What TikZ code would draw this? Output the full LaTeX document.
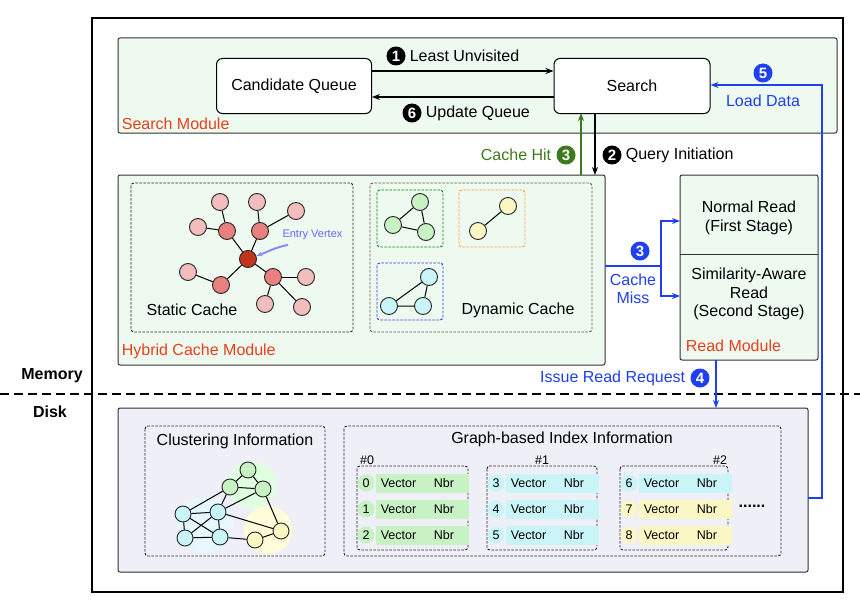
\documentclass[tikz,border=0pt]{standalone}
\usepackage{fontspec}
\setmainfont{Liberation Sans}
\usetikzlibrary{arrows.meta}
\definecolor{modfill}{HTML}{EEF9F0}
\definecolor{diskfill}{HTML}{EFEFF8}
\definecolor{labred}{HTML}{E8401C}
\definecolor{hitgreen}{HTML}{3D7A1E}
\definecolor{missblue}{HTML}{1F3FF0}
\definecolor{vgreen}{HTML}{C8F2C4}
\definecolor{vblue}{HTML}{C9F5F8}
\definecolor{vyellow}{HTML}{FBF7C4}
\definecolor{vpink}{HTML}{F2BDBD}
\definecolor{vmid}{HTML}{E88080}
\definecolor{vdark}{HTML}{C1341E}
\tikzset{
  big/.style={font=\fontsize{16}{18.5}\selectfont},
  small/.style={font=\fontsize{12.5}{14}\selectfont},
  module/.style={draw=black!80,line width=1pt,rounded corners=2pt,fill=modfill},
  plain/.style={draw=black,line width=1pt,rounded corners=6pt,fill=white},
  dbox/.style={draw=black!85,line width=0.9pt,dash pattern=on 2.5pt off 1.5pt,rounded corners=3pt},
  vtx/.style={circle,draw=black!85,line width=0.9pt,inner sep=0pt,minimum size=17pt},
  num/.style={circle,fill=#1,text=white,inner sep=0pt,minimum size=19pt,
    font=\fontsize{15}{15}\selectfont\bfseries},
  arr/.style={-{Stealth[length=8pt,width=6pt]},line width=1.6pt},
}
\newcommand{\rowitem}[4]{% x, y, colour, index
  \node[circle,fill=#3,inner sep=0pt,minimum size=17pt,small] (i#4) at (#1+9,#2) {#4};
  \node[fill=#3,minimum width=93pt,minimum height=19pt,inner sep=0pt,anchor=west] (r#4) at (#1+18,#2) {};
  \node[small,anchor=west] at (#1+20,#2) {Vector};
  \node[small,anchor=west] at (#1+73,#2) {Nbr};
}
\begin{document}
\begin{tikzpicture}[x=1pt,y=-1pt,line width=1pt]
	\useasboundingbox (0,0) rectangle (860,610);
	\draw[line width=1.8pt] (92,18) rectangle (843,592);
	
	% search module
	\draw[module] (118,38) rectangle (837,133);
	\node[plain,big,minimum width=155pt,minimum height=55pt] (cq) at (294,86) {Candidate Queue};
	\node[plain,big,minimum width=156pt,minimum height=55pt] (se) at (632,86) {Search};
	\node[big,text=labred,anchor=west] (sm) at (118,124) {Search Module};
	\draw[arr] (cq.east|-0,71) -- (se.west|-0,71);
	\draw[arr] (se.west|-0,97) -- (cq.east|-0,97);
	\node[num=black] (n1) at (396,56) {1};
	\node[big,anchor=west] at (406,56) {Least Unvisited};
	\node[num=black] (n6) at (412,113) {6};
	\node[big,anchor=west] at (422,113) {Update Queue};
	
	% hybrid cache module
	\draw[module] (118,175) rectangle (605,365);
	\node[big,text=labred,anchor=west] (hm) at (118,351) {Hybrid Cache Module};
	\draw[dbox] (131,183) rectangle (353,332);
	\draw[dbox,black!65] (370,183) rectangle (592,332);
	\draw[dbox,green!55!black] (377,190) rectangle (443,247);
	\draw[dbox,orange!80] (459,190) rectangle (525,247);
	\draw[dbox,blue!80] (377,263) rectangle (443,320);
	\node[big] at (192,310) {Static Cache};
	\node[big] at (518,310) {Dynamic Cache};
	
	% static cache graph
	\foreach \n/\p/\q in {m1/227/231,m2/260/231,m3/221/285,m4/273/277}
	  \node[vtx,fill=vmid] (\n) at (\p,\q) {};
	\foreach \n/\p/\q in {l1/220/202,l2/257/202,l3/198/227,l4/296/211,l5/188/272,l6/306/277,l7/265/304,l8/302/307}
	  \node[vtx,fill=vpink] (\n) at (\p,\q) {};
	\node[vtx,fill=vdark] (ev) at (248,259) {};
	\foreach \a/\b in {ev/m1,ev/m2,ev/m3,ev/m4,m1/l1,m1/l3,m2/l2,m2/l4,m3/l5,m4/l6,m4/l7,m4/l8}
	  \draw (\a) -- (\b);
	\node[font=\fontsize{11}{12}\selectfont,text=blue!60,anchor=west,inner sep=1pt] (evl) at (281,235) {Entry Vertex};
	\draw[-{Stealth[length=6pt]},line width=2pt,blue!45] (288,245) to[out=190,in=20] (ev);
	
	% dynamic cache graphs
	\node[vtx,fill=vgreen] (g1) at (420,202) {};
	\node[vtx,fill=vgreen] (g2) at (393,225) {};
	\node[vtx,fill=vgreen] (g3) at (426,232) {};
	\node[vtx,fill=vyellow] (y1) at (508,206) {};
	\node[vtx,fill=vyellow] (y2) at (478,231) {};
	\node[vtx,fill=vblue] (c1) at (429,277) {};
	\node[vtx,fill=vblue] (c2) at (389,306) {};
	\node[vtx,fill=vblue] (c3) at (423,306) {};
	\draw (g1) -- (g2) -- (g3) -- (g1);
	\draw (y1) -- (y2);
	\draw (c1) -- (c2) -- (c3) -- (c1);
	
	% cache hit / query initiation
	\draw[arr,hitgreen] (581,175) -- (581,113);
	\draw[arr] (595,113) -- (595,175);
	\node[big,text=hitgreen,anchor=east] at (555,155) {Cache Hit};
	\node[num=hitgreen] (n3g) at (566,155) {3};
	\node[num=black] (n2) at (612,155) {2};
	\node[big,anchor=west] at (622,155) {Query Initiation};
	
	% read module
	\draw[module] (680,175) rectangle (818,360);
	\draw[black!80] (680,254) -- (818,254);
	\node[big,align=center] (nr) at (749,218) {Normal Read\\(First Stage)};
	\node[big,align=center] (sr) at (749,294) {Similarity-Aware\\Read\\(Second Stage)};
	\node[big,text=labred,anchor=west] (rm) at (682,346) {Read Module};
	
	% cache miss
	\coordinate (cm) at (661,266);
	\draw[line width=1.6pt,missblue] (605,266) -- (cm);
	\draw[arr,missblue] (cm) |- (680,221);
	\draw[arr,missblue] (cm) |- (680,296);
	\node[num=missblue] (n3b) at (640,251) {3};
	\node[big,text=missblue,align=center] at (633,289) {Cache\\Miss};
	
	% memory / disk
	\draw[line width=1.6pt,dash pattern=on 9pt off 5pt] (0,394) -- (860,394);
	\node[font=\fontsize{16}{18}\selectfont\bfseries] at (52,376) {Memory};
	\node[font=\fontsize{16}{18}\selectfont\bfseries] at (50,412) {Disk};
	
	% issue read request
	\draw[arr,missblue] (716,360) -- (716,408);
	\node[big,text=missblue,anchor=east] at (689,378) {Issue Read Request};
	\node[num=missblue] (n4) at (700,378) {4};
	
	% disk
	\draw[module,fill=diskfill] (118,408) rectangle (808,572);
	\draw[dbox] (145,426) rectangle (325,556);
	\draw[dbox] (344,426) rectangle (781,556);
	\node[big] at (235,441) {Clustering Information};
	\node[big] at (562,439) {Graph-based Index Information};
	
	% clustering graph
	\fill[green!12] (252,485) circle (24pt);
	\fill[cyan!10] (205,525) circle (28pt);
	\fill[yellow!15] (268,530) circle (24pt);
	\foreach \n/\p/\q/\c in {a1/248/470/vgreen,a2/230/487/vgreen,a3/263/489/vgreen,b1/183/514/vblue,b2/218/512/vblue,b3/185/538/vblue,b4/220/537/vblue,d1/255/540/vyellow,d2/281/531/vyellow}
	  \node[vtx,fill=\c,minimum size=16pt] (\n) at (\p,\q) {};
	\foreach \a/\b in {a1/a2,a1/a3,a2/a3,a2/b1,a2/b2,a3/b2,a3/d2,b1/b2,b1/b3,b1/b4,b2/b3,b2/b4,b3/b4,b2/d2,b4/d1,d1/d2}
	  \draw (\a) -- (\b);
	
	% index blocks
	\draw[dbox] (357,466) rectangle (468,550);
	\draw[dbox] (487,466) rectangle (597,550);
	\draw[dbox] (620,466) rectangle (728,550);
	\node[small] at (367,460) {\#0};
	\node[small] at (542,460) {\#1};
	\node[small] at (720,460) {\#2};
	\rowitem{357}{483}{vgreen}{0}
	\rowitem{357}{509}{vgreen}{1}
	\rowitem{357}{535}{vgreen}{2}
	\rowitem{487}{483}{vblue}{3}
	\rowitem{487}{509}{vblue}{4}
	\rowitem{487}{535}{vblue}{5}
	\rowitem{620}{483}{vblue}{6}
	\rowitem{620}{509}{vyellow}{7}
	\rowitem{620}{535}{vyellow}{8}
	\node[font=\fontsize{16}{18}\selectfont\bfseries] (dots) at (752,506) {......};
	
	% load data
	\draw[arr,missblue] (808,498) -| (822,85) -- (se.east|-0,85);
	\node[num=missblue] (n5) at (763,73) {5};
	\node[big,text=missblue] at (763,101) {Load Data};
\end{tikzpicture}
\end{document}
